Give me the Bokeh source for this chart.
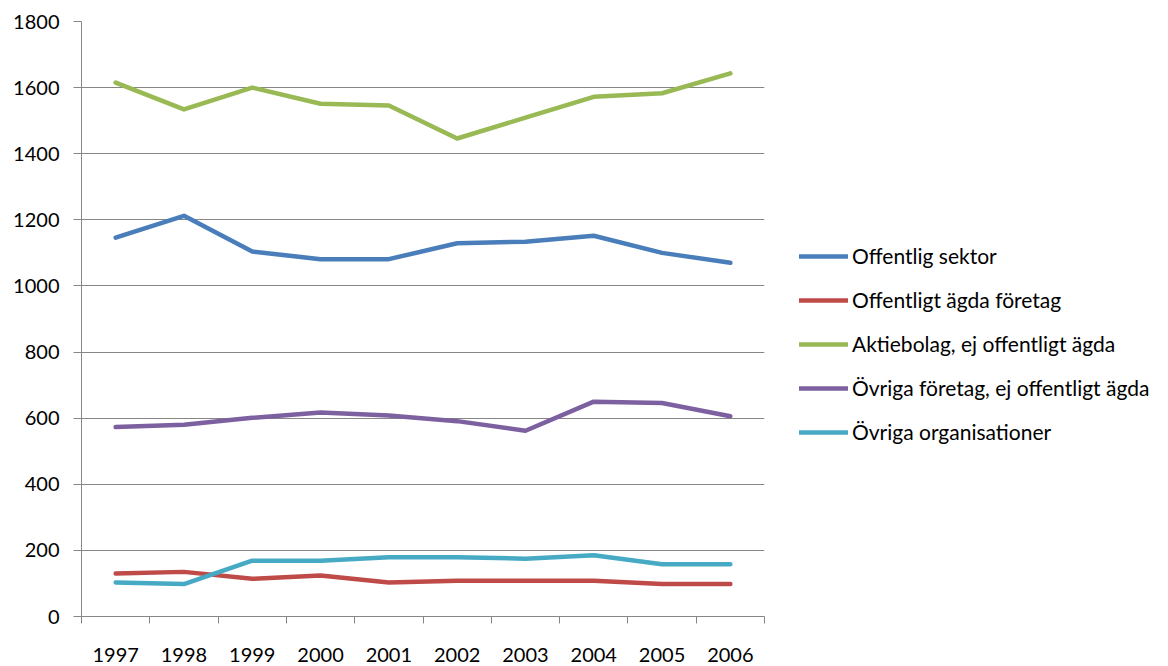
from bokeh.plotting import figure
from bokeh.models import Range1d, FixedTicker, Legend, LegendItem
from bokeh.embed import file_html
from bokeh.resources import INLINE

years = ["1997", "1998", "1999", "2000", "2001", "2002", "2003", "2004", "2005", "2006"]
offentlig_sektor = [1146, 1212, 1104, 1081, 1081, 1129, 1134, 1152, 1100, 1070]
offentligt_agda_foretag = [130, 135, 114, 124, 103, 108, 108, 108, 98, 98]
aktiebolag = [1615, 1534, 1600, 1551, 1546, 1446, 1509, 1572, 1583, 1643]
ovriga_foretag = [573, 580, 601, 617, 608, 591, 562, 650, 646, 606]
ovriga_organisationer = [103, 98, 169, 169, 179, 179, 175, 185, 158, 158]

series_names = [
    "Offentlig sektor",
    "Offentligt ägda företag",
    "Aktiebolag, ej offentligt ägda",
    "Övriga företag, ej offentligt ägda",
    "Övriga organisationer",
]
series_values = [offentlig_sektor, offentligt_agda_foretag, aktiebolag, ovriga_foretag, ovriga_organisationer]
colors = ["#4A7EBB", "#BE4B48", "#98B954", "#7D60A0", "#46AAC5"]
y_ticks = [0, 200, 400, 600, 800, 1000, 1200, 1400, 1600, 1800]

FONT = "Lato"
GRAY = "#868686"

p = figure(frame_width=683, frame_height=595, output_backend="svg", toolbar_location=None,
           min_border_left=81, min_border_right=0, min_border_top=21, min_border_bottom=0,
           x_range=Range1d(0, len(years)), y_range=Range1d(0, 1800))
p.outline_line_color = None
p.background_fill_color = "white"

xs = [i + 0.5 for i in range(len(years))]
items = []
for name, vals, c in zip(series_names, series_values, colors):
    r = p.line(xs, vals, line_color=c, line_width=4.5, line_join="round", line_cap="round")
    items.append(LegendItem(label=name, renderers=[r]))

# x axis
p.xaxis.ticker = FixedTicker(ticks=xs, minor_ticks=list(range(len(years) + 1)))
p.xaxis.major_label_overrides = {x: y for x, y in zip(xs, years)}
p.xaxis.major_tick_out = 0
p.xaxis.major_tick_in = 0
p.xaxis.minor_tick_out = 7
p.xaxis.minor_tick_in = 0
p.xaxis.minor_tick_line_color = GRAY
p.xaxis.axis_line_color = GRAY
p.xaxis.major_label_standoff = 24
p.xaxis.major_label_text_font = FONT
p.xaxis.major_label_text_font_size = "20px"
p.xaxis.major_label_text_color = "black"

# y axis
p.yaxis.ticker = FixedTicker(ticks=y_ticks)
p.yaxis.major_tick_out = 8
p.yaxis.major_tick_in = 0
p.yaxis.minor_tick_out = 0
p.yaxis.minor_tick_in = 0
p.yaxis.major_tick_line_color = GRAY
p.yaxis.axis_line_color = GRAY
p.yaxis.major_label_standoff = 14
p.yaxis.major_label_text_font = FONT
p.yaxis.major_label_text_font_size = "20px"
p.yaxis.major_label_text_color = "black"

p.xgrid.grid_line_color = None
p.ygrid.ticker = FixedTicker(ticks=y_ticks)
p.ygrid.grid_line_color = GRAY
p.ygrid.grid_line_width = 1

legend = Legend(items=items, location=(35, 172), orientation="vertical",
                padding=0, margin=0, spacing=19, glyph_width=49, glyph_height=20,
                label_height=20, label_standoff=4,
                label_text_font=FONT, label_text_font_size="21px", label_text_color="black",
                border_line_color=None, background_fill_alpha=0)
p.add_layout(legend, "right")

open("out.html", "w").write(file_html(p, INLINE))
